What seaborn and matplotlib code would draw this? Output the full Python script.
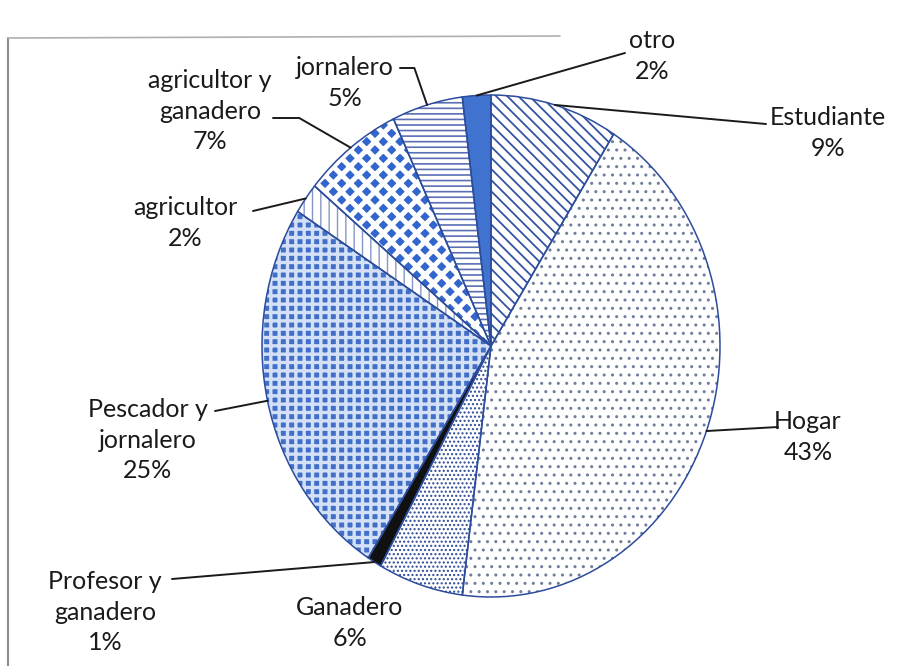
import matplotlib.pyplot as plt
import seaborn as sns
import numpy as np
from matplotlib.lines import Line2D

# datos (porcentaje de encuestados por ocupacion)
ocupaciones = ['Estudiante', 'Hogar', 'Ganadero', 'Profesor y\nganadero',
               'Pescador y\njornalero', 'agricultor', 'agricultor y\nganadero',
               'jornalero', 'otro']
porcentajes = [9, 43, 6, 1, 25, 2, 7, 5, 2]

# estilo de relleno por sector: (color de fondo, trama, color de trama, grosor)
rellenos = [
    ('white', '\\\\\\', '#3553a3', 1.3),
    ('white', '..', '#6f7c9c', 1.0),
    ('white', '....', '#2c4896', 1.0),
    ('#111111', None, '#111111', 1.0),
    ('#4270c9', '++', '#d4e0f6', 2.4),
    ('white', '||', '#8597c8', 1.0),
    ('#3366cc', 'xx', 'white', 3.6),
    ('white', '---', '#5a6fb5', 1.2),
    ('#3f73cf', None, '#3f73cf', 1.0),
]

# centro del pastel en pixeles y radios (la imagen escaneada es algo eliptica)
CX, CY, RX, RY = 491, 346, 229, 251
W, H = 915, 666


def px(x, y):
    return ((x - CX) / RX, (CY - y) / RY)


# posicion de las etiquetas (pixeles), inicio de la linea guia y angulo del quiebre
etiquetas = {
    'Estudiante': ((828, 133), (766, 124), None),
    'Hogar': ((808, 437), (778, 427), None),
    'Ganadero': ((350, 623), None, None),
    'Profesor y\nganadero': ((105, 612), (172, 579), None),
    'Pescador y\njornalero': ((148, 440), (215, 411), None),
    'agricultor': ((185, 223), (253, 211), None),
    'agricultor y\nganadero': ((210, 111), (273, 118), -30),
    'jornalero': ((345, 83), (400, 68), -71),
    'otro': ((652, 56), (625, 53), None),
}


def main():
    sns.set_theme(style='white')
    plt.rcParams['font.family'] = ['Lato', 'DejaVu Sans']

    fig = plt.figure(figsize=(W / 100, H / 100), dpi=100)
    ax = fig.add_axes([0, 0, 1, 1])

    wedges, _ = ax.pie(porcentajes, startangle=90, counterclock=False,
                       radius=1, wedgeprops=dict(linewidth=0))
    for w, (fc, hatch, hc, hlw) in zip(wedges, rellenos):
        w.set_facecolor(fc)
        w.set_edgecolor(hc)
        w.set_linewidth(0)
        if hatch:
            w.set_hatch(hatch)
            if hasattr(w, 'set_hatch_linewidth'):
                w.set_hatch_linewidth(hlw)

    # contorno de los sectores
    ax.pie(porcentajes, startangle=90, counterclock=False, radius=1,
           wedgeprops=dict(fill=False, edgecolor='#2c4c9c', linewidth=1.1))

    for w, nombre, p in zip(wedges, ocupaciones, porcentajes):
        (tx, ty), inicio, ang = etiquetas[nombre]
        ax.text(*px(tx, ty), f'{nombre}\n{p}%', ha='center', va='center',
                fontsize=18, color='#1a1a1a', linespacing=1.42)
        if inicio is None:
            continue
        theta = np.deg2rad((w.theta1 + w.theta2) / 2)
        borde = (np.cos(theta), np.sin(theta))
        estilo = 'arc3' if ang is None else f'angle,angleA=0,angleB={ang},rad=0'
        ax.annotate('', xy=borde, xytext=px(*inicio),
                    arrowprops=dict(arrowstyle='-', color='#1a1a1a', lw=1.4,
                                    shrinkA=0, shrinkB=0, connectionstyle=estilo))

    ax.set_aspect('auto')
    ax.set_xlim((0 - CX) / RX, (W - CX) / RX)
    ax.set_ylim((CY - H) / RY, CY / RY)
    ax.axis('off')

    # marco del area del grafico en la pagina escaneada
    fig.add_artist(Line2D([8 / W, 8 / W], [0, 1 - 38 / H], color='#8c8c8c', lw=1.5))
    fig.add_artist(Line2D([8 / W, 560 / W], [1 - 38 / H, 1 - 36 / H], color='#b0b0b0', lw=1.2))

    fig.savefig('out.png', dpi=100)
    plt.close(fig)


if __name__ == '__main__':
    main()
